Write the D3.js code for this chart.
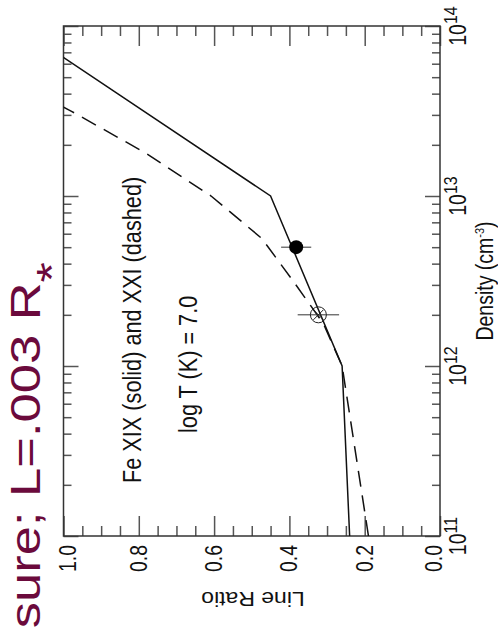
<!DOCTYPE html>
<html>
<head>
<meta charset="utf-8">
<script src="https://cdn.jsdelivr.net/npm/d3@7"></script>
<style>
  html, body { margin: 0; padding: 0; background: #fff; }
  svg { display: block; font-family: "Liberation Sans", Arial, Helvetica, sans-serif; }
</style>
</head>
<body>
<svg width="498" height="629"></svg>
<script>
// Fe XIX (solid) and Fe XXI (dashed) line ratio vs density, log T = 7.0
const densSolid = [1e11, 1e12, 1e13, 1e14];
const ratioSolid = [0.24, 0.26, 0.45, 1.125];
const densDashed = [1e11, 1e12, 1.78e12, 3.16e12, 5.62e12, 1e13, 1.78e13, 3.16e13, 5.62e13];
const ratioDashed = [0.19, 0.26, 0.31, 0.39, 0.473, 0.608, 0.78, 0.98, 1.2];

// measured points
const obsDens = [5e12, 2e12];
const obsRatio = [0.382, 0.323];
const obsErr = [0.04, 0.055];
const obsKind = ['filled', 'open'];

const ratioTicks = [1.0, 0.8, 0.6, 0.4, 0.2, 0.0];
const ratioLabels = ['1.0', '0.8', '0.6', '0.4', '0.2', '0.0'];
const densTicks = [1e11, 1e12, 1e13, 1e14];
const densExp = ['11', '12', '13', '14'];

const svg = d3.select('svg');
const box = { left: 63.5, right: 440, top: 26, bottom: 536 };
const stretch = 1.18; // glyphs are wider across the page than tall

const x = d3.scaleLinear().domain([1, 0]).range([box.left, box.right]);
const y = d3.scaleLog().domain([1e11, 1e14]).range([box.bottom, box.top]);

const minorRatio = d3.range(0, 1.0001, 0.05).filter(v => Math.abs(v * 5 - Math.round(v * 5)) > 1e-6);
const minorDens = y.ticks().filter(v => !densTicks.includes(v));

// ticks, all pointing into the box
function ticks(axis, tr) {
  const g = svg.append('g').attr('transform', tr).call(axis);
  g.select('.domain').remove();
  g.selectAll('.tick line').attr('stroke', '#555').attr('stroke-width', 1.5);
  g.selectAll('.tick text').remove();
}
ticks(d3.axisBottom(x).tickValues(ratioTicks).tickSize(-20), `translate(0,${box.bottom})`);
ticks(d3.axisBottom(x).tickValues(minorRatio).tickSize(-10), `translate(0,${box.bottom})`);
ticks(d3.axisTop(x).tickValues(ratioTicks).tickSize(-20), `translate(0,${box.top})`);
ticks(d3.axisTop(x).tickValues(minorRatio).tickSize(-10), `translate(0,${box.top})`);
ticks(d3.axisRight(y).tickValues(densTicks).tickSize(-15), `translate(${box.right},0)`);
ticks(d3.axisRight(y).tickValues(minorDens).tickSize(-8), `translate(${box.right},0)`);
ticks(d3.axisLeft(y).tickValues(densTicks).tickSize(-15), `translate(${box.left},0)`);
ticks(d3.axisLeft(y).tickValues(minorDens).tickSize(-8), `translate(${box.left},0)`);

svg.append('rect')
  .attr('x', box.left).attr('y', box.top)
  .attr('width', box.right - box.left).attr('height', box.bottom - box.top)
  .attr('fill', 'none').attr('stroke', '#333').attr('stroke-width', 1.5);

// model curves
svg.append('clipPath').attr('id', 'plotclip')
  .append('rect').attr('x', box.left).attr('y', box.top)
  .attr('width', box.right - box.left).attr('height', box.bottom - box.top);

const line = d3.line().x(d => x(d[1])).y(d => y(d[0]));

svg.append('path')
  .attr('clip-path', 'url(#plotclip)')
  .attr('d', line(d3.zip(densSolid, ratioSolid)))
  .attr('fill', 'none').attr('stroke', '#111').attr('stroke-width', 1.5);

svg.append('path')
  .attr('clip-path', 'url(#plotclip)')
  .attr('d', line(d3.zip(densDashed, ratioDashed)))
  .attr('fill', 'none').attr('stroke', '#111').attr('stroke-width', 1.5)
  .attr('stroke-dasharray', '16,9');

// observed points with error bars
obsDens.forEach((n, i) => {
  const cx = x(obsRatio[i]), cy = y(n);
  svg.append('line')
    .attr('x1', x(obsRatio[i] + obsErr[i])).attr('x2', x(obsRatio[i] - obsErr[i]))
    .attr('y1', cy).attr('y2', cy)
    .attr('stroke', '#333').attr('stroke-width', 1);
  if (obsKind[i] === 'filled') {
    svg.append('circle').attr('cx', cx).attr('cy', cy).attr('r', 7).attr('fill', '#000');
  } else {
    svg.append('circle').attr('cx', cx).attr('cy', cy).attr('r', 8)
      .attr('fill', 'none').attr('stroke', '#222').attr('stroke-width', 1);
    svg.append('path')
      .attr('d', `M${cx - 5},${cy - 5}L${cx + 5},${cy + 5}M${cx - 5},${cy + 5}L${cx + 5},${cy - 5}`)
      .attr('stroke', '#222').attr('stroke-width', 1);
  }
});

// text running up the page
function upText(tx, ty, size, anchor) {
  return svg.append('text')
    .attr('transform', `translate(${tx},${ty}) rotate(-90) scale(1,${stretch})`)
    .attr('font-size', size)
    .attr('text-anchor', anchor)
    .attr('fill', '#111');
}

ratioTicks.forEach((v, i) => {
  const shift = v === 1 ? 4 : v === 0 ? -6 : 0;
  upText(x(v) + shift, 545, 19.5, 'end')
    .attr('dy', '0.35em')
    .text(ratioLabels[i]);
});

densTicks.forEach((v, i) => {
  const t = upText(466, y(v), 19.5, 'middle');
  t.append('tspan').text('10');
  t.append('tspan').attr('font-size', 16).attr('dy', -7.5).text(densExp[i]);
});

const dl = upText(493, 281, 19.5, 'middle');
dl.append('tspan').text('Density (cm');
dl.append('tspan').attr('font-size', 11).attr('dy', -8).text('-3');
dl.append('tspan').attr('dy', 8).text(')');

upText(141, 483, 21.7, 'start').text('Fe XIX (solid) and XXI (dashed)');
upText(197, 433, 21.7, 'start').text('log T (K) = 7.0');

svg.append('text')
  .attr('transform', `translate(253,592) rotate(180) scale(${stretch},1)`)
  .attr('font-size', 19.5)
  .attr('text-anchor', 'middle')
  .attr('fill', '#111')
  .text('Line Ratio');

// slide caption, cut by the window edge
const cap = svg.append('text')
  .attr('transform', 'translate(40,262) rotate(-90) scale(1.25,1)')
  .attr('font-size', 42)
  .attr('text-anchor', 'end')
  .attr('fill', '#6b0a3c');
cap.append('tspan').text('sure; L=.003 R');
cap.append('tspan').attr('dy', '0.62em').text('*');
</script>
</body>
</html>
